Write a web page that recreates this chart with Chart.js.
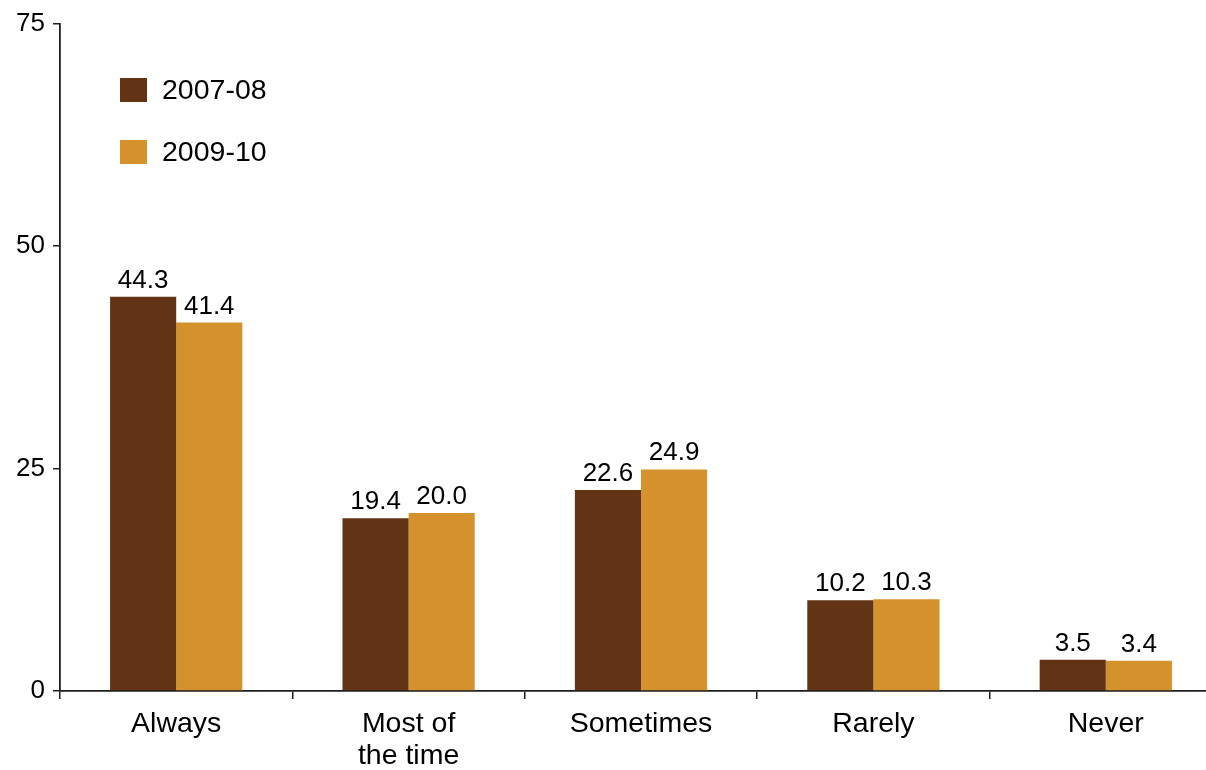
<!DOCTYPE html>
<html>
<head>
<meta charset="utf-8">
<script src="https://cdn.jsdelivr.net/npm/chart.js@4/dist/chart.umd.min.js"></script>
<style>
  html, body { margin: 0; padding: 0; background: #fff; overflow: hidden; }
  #wrap { width: 1206px; height: 770px; overflow: hidden; position: relative; }
  canvas { display: block; }
</style>
</head>
<body>
<div id="wrap"><canvas id="chart" width="1222" height="770"></canvas></div>
<script>
const categories = ['Always', ['Most of', 'the time'], 'Sometimes', 'Rarely', 'Never'];
const seriesNames = ['2007-08', '2009-10'];
const values0708 = [44.3, 19.4, 22.6, 10.2, 3.5];
const values0910 = [41.4, 20.0, 24.9, 10.3, 3.4];
const yTicks = [0, 25, 50, 75];

const colors = ['#623415', '#D5912B'];
const FONT = '"Liberation Sans", Arial, Helvetica, sans-serif';
const axisColor = '#1e1e1e';
const textColor = '#000';

// Value labels drawn above each bar
const valueLabels = {
  id: 'valueLabels',
  afterDatasetsDraw(chart) {
    const ctx = chart.ctx;
    ctx.save();
    ctx.font = '26px ' + FONT;
    ctx.fillStyle = textColor;
    ctx.textAlign = 'center';
    ctx.textBaseline = 'alphabetic';
    chart.data.datasets.forEach((ds, i) => {
      chart.getDatasetMeta(i).data.forEach((bar, j) => {
        ctx.fillText(ds.data[j].toFixed(1), bar.x, bar.y - 9);
      });
    });
    ctx.restore();
  }
};

// Legend in the upper left of the plot
const insetLegend = {
  id: 'insetLegend',
  afterDraw(chart) {
    const ctx = chart.ctx;
    ctx.save();
    ctx.font = '28.5px ' + FONT;
    ctx.textAlign = 'left';
    ctx.textBaseline = 'middle';
    chart.data.datasets.forEach((ds, i) => {
      const y = 78 + i * 62;
      ctx.fillStyle = ds.backgroundColor;
      ctx.fillRect(120, y, 27, 24);
      ctx.fillStyle = textColor;
      ctx.fillText(ds.label, 162, y + 13);
    });
    ctx.restore();
  }
};

new Chart(document.getElementById('chart'), {
  type: 'bar',
  data: {
    labels: categories,
    datasets: [
      { label: seriesNames[0], data: values0708, backgroundColor: colors[0] },
      { label: seriesNames[1], data: values0910, backgroundColor: colors[1] }
    ]
  },
  options: {
    responsive: false,
    devicePixelRatio: 1,
    animation: false,
    categoryPercentage: 0.569,
    barPercentage: 1.0,
    layout: { padding: { top: 22, left: 0, right: 0, bottom: 0 } },
    plugins: {
      legend: { display: false },
      tooltip: { enabled: false }
    },
    scales: {
      x: {
        offset: true,
        grid: {
          offset: true,
          drawOnChartArea: false,
          drawTicks: true,
          tickLength: 8,
          color: axisColor,
          lineWidth: 1.5
        },
        border: { display: true, color: axisColor, width: 1.8 },
        ticks: {
          color: textColor,
          font: { family: FONT, size: 28.5, lineHeight: 1.12 },
          padding: 9,
          maxRotation: 0,
          autoSkip: false
        },
        afterFit(scale) { scale.height = 79; }
      },
      y: {
        min: 0,
        max: 75,
        afterBuildTicks(scale) { scale.ticks = yTicks.map(v => ({ value: v })); },
        grid: {
          drawOnChartArea: false,
          drawTicks: true,
          tickLength: 7,
          color: axisColor,
          lineWidth: 1.5
        },
        border: { display: true, color: axisColor, width: 1.8 },
        ticks: {
          color: textColor,
          font: { family: FONT, size: 26 },
          padding: 8
        },
        afterFit(scale) { scale.width = 60; }
      }
    }
  },
  plugins: [valueLabels, insetLegend]
});
</script>
</body>
</html>
